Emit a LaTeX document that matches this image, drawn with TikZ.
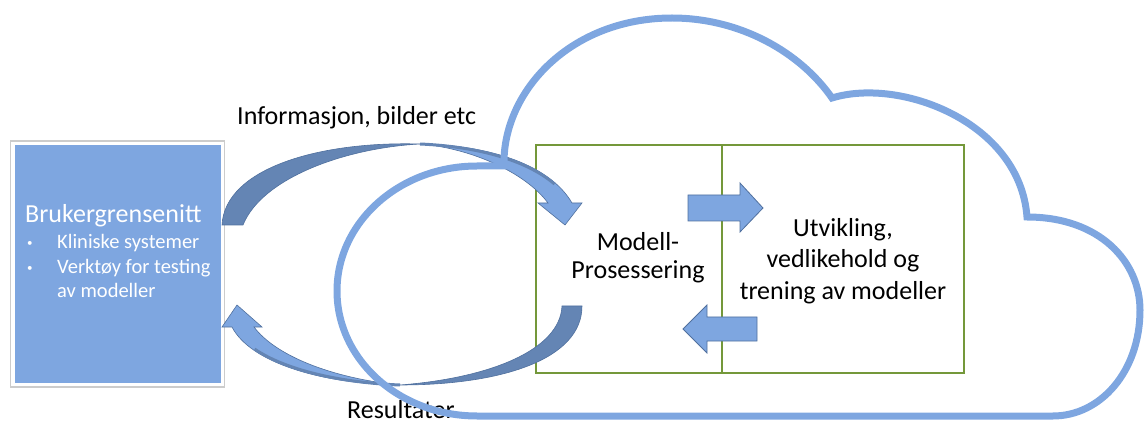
\documentclass[tikz,border=0pt]{standalone}
\usepackage{fontspec}
\setmainfont{Carlito}
\usetikzlibrary{positioning}
\definecolor{Sky}{RGB}{126,166,224}
\definecolor{SkyDark}{RGB}{100,133,180}
\definecolor{SkyEdge}{RGB}{80,112,158}
\definecolor{Leaf}{RGB}{116,152,58}

\begin{document}
\begin{tikzpicture}[
        x=1pt, y=-1pt,
        font=\fontsize{26}{28}\selectfont,
        panel/.style = {draw=Leaf, line width=1.8pt, minimum height=228pt, inner sep=0pt},
        txt/.style = {align=center, inner sep=0pt},
        small/.style = {font=\fontsize{20.5}{24}\selectfont, text=white, inner sep=0pt, anchor=base west},
        blockarrow/.style = {fill=Sky, draw=SkyEdge, line width=0.8pt},
        ribbon/.style = {draw=SkyEdge, line width=0.6pt},
        cloudline/.style = {draw=Sky, line width=7pt}
    ]
    \useasboundingbox (0,0) rectangle (1144,422);

    % user interface
    \node (uiframe) at (117.5,264) [draw=black!20, line width=1.5pt, minimum width=214pt, minimum height=246pt] {};
    \node (ui) at (118,264) [fill=Sky, minimum width=206pt, minimum height=238pt] {};
    \node (uititle) at (25,223) [small, font=\fontsize{26}{28}\selectfont] {Brukergrensenitt};
    \node (b1) at (27,247) [small, font=\fontsize{11}{12}\selectfont] {\textbullet};
    \node (i1) at (57,249) [small] {Kliniske systemer};
    \node (b2) at (27,272) [small, font=\fontsize{11}{12}\selectfont] {\textbullet};
    \node (i2) at (57,274) [small] {Verktøy for testing};
    \node (i3) at (57,298) [small] {av modeller};

    % cloud services
    \node (proc) at (629,259) [panel, minimum width=186pt] {};
    \node (dev) at (843,259) [panel, minimum width=242pt] {};
    \node (proctext) at (638,258) [txt] {Modell-\\Prosessering};
    \node (devtext) at (843,261) [txt, font=\fontsize{26}{31.5}\selectfont] {Utvikling,\\vedlikehold og\\trening av modeller};

    \node (info) at (237,125) [anchor=base west, inner sep=0pt] {Informasjon, bilder etc};
    \node (res) at (347,418) [anchor=base west, inner sep=0pt] {Resultater};

    % block arrows
    \draw[blockarrow] (688,195) -- (740,195) -- (740,183) -- (763,208) -- (740,232) -- (740,221) -- (688,221) -- cycle;
    \draw[blockarrow] (757,317) -- (707,317) -- (707,305) -- (683,329) -- (707,353) -- (707,341) -- (757,341) -- cycle;

    % curved arrows
    \coordinate (twistA) at (420,144);
    \coordinate (twistB) at (400,385);
    \draw[ribbon, fill=SkyDark] (222,225) .. controls (225,168) and (320,141) .. (twistA)
        .. controls (345,148) and (262,178) .. (243,225) -- cycle;
    \draw[ribbon, fill=Sky] (twistA) .. controls (470,148) and (525,172) .. (548,203)
        -- (538,203) -- (565,225) -- (582,203) -- (572,203)
        .. controls (550,165) and (490,145) .. (twistA) -- cycle;
    \draw[SkyDark, line width=3pt, yshift=-1.6pt] (twistA) .. controls (476,144.8) and (525.6,157.8) .. (554.5,182.4);
    \draw[ribbon, fill=SkyDark] (582,306) .. controls (582,360) and (500,385) .. (twistB)
        .. controls (490,378) and (560,350) .. (562,306) -- cycle;
    \draw[ribbon, fill=Sky] (twistB) .. controls (320,384) and (250,362) .. (232,327)
        -- (222,327) -- (237,305) -- (262,327) -- (254,327)
        .. controls (275,355) and (330,378) .. (twistB) -- cycle;
    \draw[SkyDark, line width=3pt, yshift=1.6pt] (twistB) .. controls (340,384.3) and (285.6,371.7) .. (254.6,350.7);

    % cloud
    \draw[cloudline] (1053,416) -- (477,416)
        arc[start angle=90, end angle=270, x radius=140, y radius=125] -- (504,166)
        .. controls (502,92) and (570,18) .. (672,18)
        .. controls (740,18) and (800,52) .. (832,98)
        .. controls (900,77) and (1020,122) .. (1027,217)
        .. controls (1100,217) and (1140,262) .. (1140,310)
        .. controls (1140,372) and (1100,416) .. (1053,416) -- cycle;
\end{tikzpicture}
\end{document}
